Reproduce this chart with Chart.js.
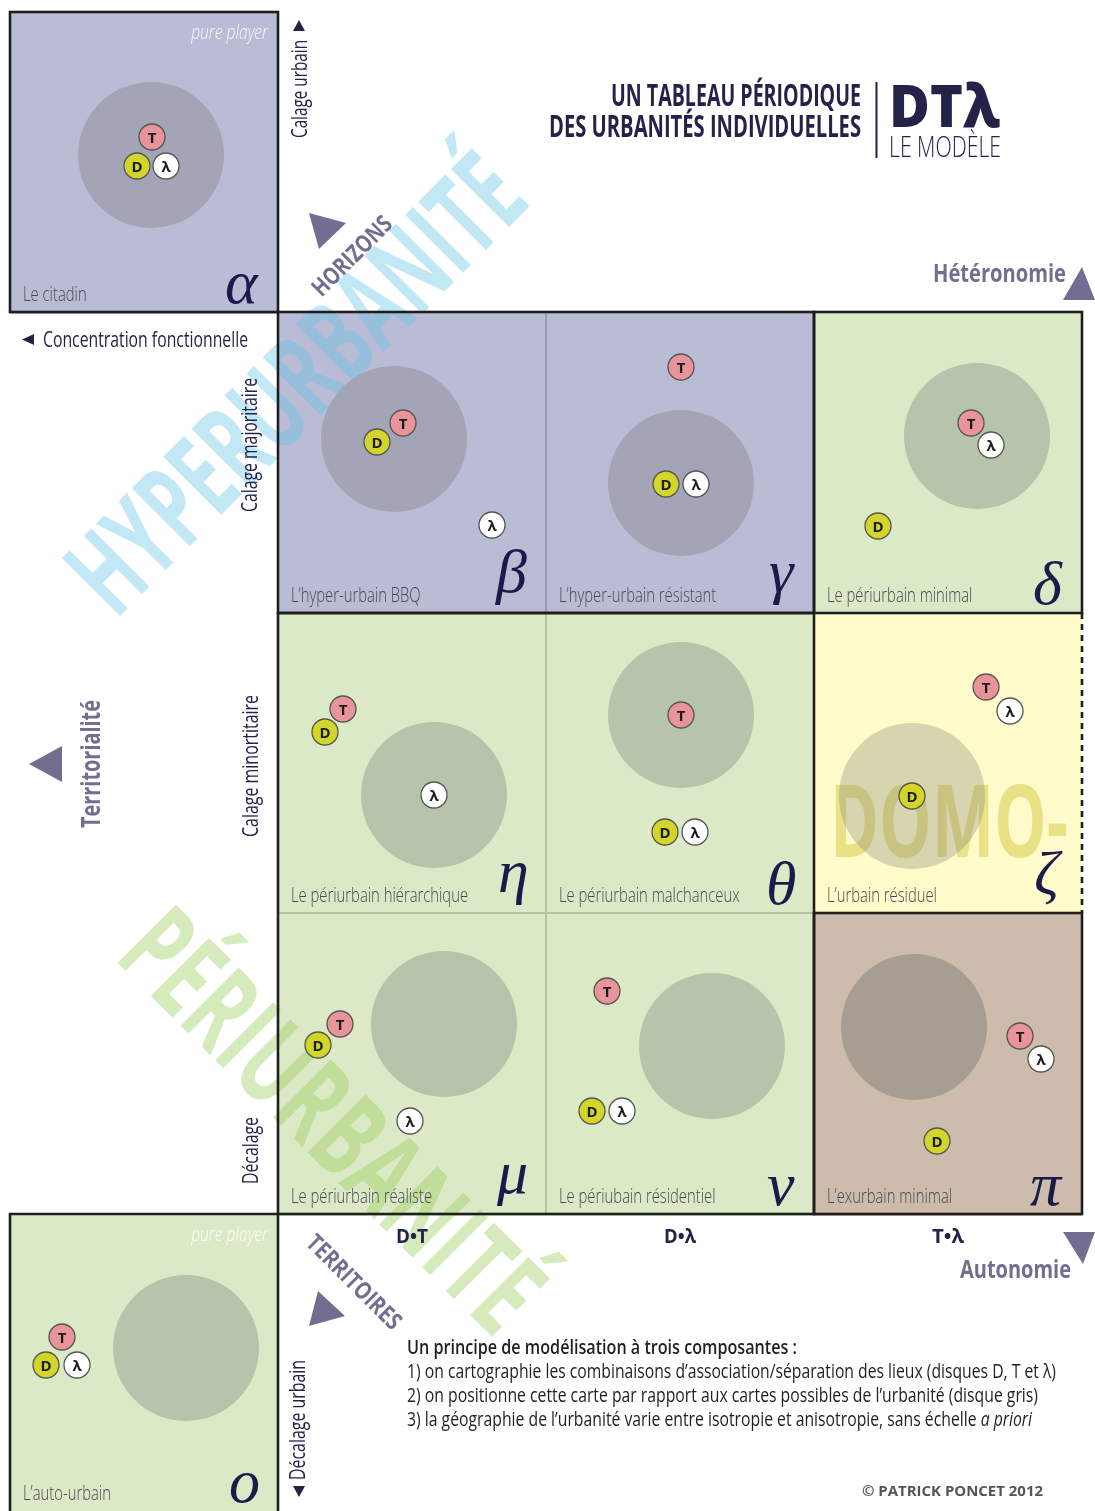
<!DOCTYPE html>
<html lang="fr">
<head>
<meta charset="utf-8">
<title>Un tableau périodique des urbanités individuelles</title>
<script src="https://cdn.jsdelivr.net/npm/chart.js"></script>
<style>
  html, body { margin: 0; padding: 0; background: #fff; }
  #wrap { position: relative; width: 1095px; height: 1511px; overflow: hidden; }
  canvas { display: block; }
</style>
</head>
<body>
<div id="wrap"><canvas id="board" width="1095" height="1511" style="width:1095px;height:1511px"></canvas></div>
<script>
// the eleven cells, read row by row (alpha on top, omicron at the bottom)
const cellNames = ['Le citadin', 'L’hyper-urbain BBQ', 'L’hyper-urbain résistant', 'Le périurbain minimal',
  'Le périurbain hiérarchique', 'Le périurbain malchanceux', 'L’urbain résiduel',
  'Le périurbain réaliste', 'Le périubain résidentiel', 'L’exurbain minimal', 'L’auto-urbain'];
const cellGreek = ['α', 'β', 'γ', 'δ', 'η', 'θ', 'ζ', 'μ', 'ν', 'π', 'ο'];
const cellKind = ['hyper', 'hyper', 'hyper', 'peri', 'peri', 'peri', 'domo', 'peri', 'peri', 'exo', 'peri'];
const cellCol = [0, 1, 2, 3, 1, 2, 3, 1, 2, 3, 0];
const cellRow = [0, 1, 1, 1, 2, 2, 2, 3, 3, 3, 4];
const purePlayer = [true, false, false, false, false, false, false, false, false, false, true];

// grey disc = possible maps of urbanity
const urbanX = [151, 394, 681, 977, 434, 681, 912, 444, 712, 914, 186];
const urbanY = [155, 439, 483, 436, 795, 715, 796, 1024, 1046, 1027, 1348];
// D, T and lambda discs
const discDX = [137, 377, 666, 878, 325, 665, 912, 318, 592, 937, 46];
const discDY = [166, 442, 484, 526, 732, 832, 796, 1045, 1111, 1141, 1365];
const discTX = [152, 403, 681, 971, 343, 681, 986, 340, 607, 1020, 62];
const discTY = [137, 423, 367, 423, 709, 715, 687, 1024, 991, 1036, 1337];
const discLX = [166, 492, 696, 991, 434, 695, 1010, 410, 622, 1041, 77];
const discLY = [166, 525, 484, 445, 795, 832, 711, 1121, 1111, 1059, 1365];

// column labels under the grid
const colTicks = ['D•T', 'D•λ', 'T•λ'];

// sheet layout
const W = 1095, H = 1511;
const colX = [10, 278, 546, 814, 1082];
const rowY = [12, 312, 613, 913, 1214, 1511];

const SANS = "'Open Sans', 'Noto Sans', sans-serif";
const SERIF = "'Liberation Serif', 'DejaVu Serif', serif";
const INK = '#23234a';
const MAUVE = '#736e91';
const fills = { hyper: '#babcd6', peri: '#dce9c6', domo: '#fffbcb', exo: '#cdbcab' };
const urbanFill = { hyper: '#a3a5b6', peri: '#b5c4aa', domo: 'rgba(135,135,120,0.33)', exo: '#a89d92' };

function txt(ctx, s, x, y, o) {
  ctx.save();
  ctx.translate(x, y);
  if (o.rot) ctx.rotate(o.rot * Math.PI / 180);
  ctx.font = (o.italic ? 'italic ' : '') + (o.weight || 400) + ' ' + o.size + 'px ' + (o.family || SANS);
  const nat = ctx.measureText(s).width;
  const sx = o.w ? o.w / nat : (o.sx || 1);
  ctx.scale(sx, 1);
  ctx.textAlign = o.align || 'left';
  ctx.textBaseline = 'alphabetic';
  ctx.fillStyle = o.color || INK;
  ctx.fillText(s, 0, o.dy || 0);
  ctx.restore();
  return { width: nat * sx, sx: sx };
}

function tri(ctx, p, color) {
  ctx.beginPath();
  ctx.moveTo(p[0], p[1]);
  ctx.lineTo(p[2], p[3]);
  ctx.lineTo(p[4], p[5]);
  ctx.closePath();
  ctx.fillStyle = color;
  ctx.fill();
}

const pts = (xs, ys) => xs.map((x, i) => ({ x: x, y: ys[i] }));

const sheet = {
  id: 'sheet',
  beforeDatasetsDraw(chart) {
    const ctx = chart.ctx;
    const px = v => chart.scales.x.getPixelForValue(v);
    const py = v => chart.scales.y.getPixelForValue(v);
    ctx.save();
    ctx.fillStyle = '#fff';
    ctx.fillRect(0, 0, W, H);

    // cell backgrounds
    cellNames.forEach((n, i) => {
      const x0 = px(colX[cellCol[i]]), x1 = px(colX[cellCol[i] + 1]);
      const y0 = py(rowY[cellRow[i]]), y1 = py(rowY[cellRow[i] + 1]);
      ctx.fillStyle = fills[cellKind[i]];
      ctx.fillRect(x0, y0, x1 - x0, y1 - y0 + 2);
    });

    // big watermarks
    txt(ctx, 'HYPERURBANITÉ', 295, 383, { rot: -45, size: 115, weight: 700, w: 590, align: 'center', dy: 41, color: 'rgba(95,195,228,0.38)' });
    txt(ctx, 'PÉRIURBANITÉ', 333, 1120, { rot: 45, size: 115, weight: 700, w: 540, align: 'center', dy: 41, color: 'rgba(150,205,85,0.40)' });
    txt(ctx, 'DOMO-', 830, 857, { size: 100, weight: 700, w: 238, color: '#e9e185' });

    // thin inner lines
    ctx.strokeStyle = 'rgba(0,0,0,0.16)';
    ctx.lineWidth = 2;
    ctx.beginPath();
    ctx.moveTo(px(colX[2]), py(rowY[1])); ctx.lineTo(px(colX[2]), py(rowY[4]));
    ctx.moveTo(px(colX[1]), py(rowY[3])); ctx.lineTo(px(colX[3]), py(rowY[3]));
    ctx.stroke();

    // thick frames
    ctx.strokeStyle = '#1e1e1e';
    ctx.lineWidth = 2.6;
    const frame = (c0, r0, c1, r1) => ctx.strokeRect(px(colX[c0]), py(rowY[r0]), px(colX[c1]) - px(colX[c0]), py(rowY[r1]) - py(rowY[r0]));
    frame(0, 0, 1, 1);
    frame(1, 1, 3, 2);
    frame(3, 1, 4, 2);
    frame(1, 2, 3, 4);
    frame(3, 3, 4, 4);
    ctx.beginPath();
    ctx.moveTo(px(colX[0]), H + 5); ctx.lineTo(px(colX[0]), py(rowY[4]));
    ctx.lineTo(px(colX[1]), py(rowY[4])); ctx.lineTo(px(colX[1]), H + 5);
    ctx.stroke();
    ctx.setLineDash([6, 5]);
    ctx.beginPath();
    ctx.moveTo(px(colX[4]), py(rowY[2])); ctx.lineTo(px(colX[4]), py(rowY[3]));
    ctx.stroke();
    ctx.restore();
  },
  afterDatasetsDraw(chart) {
    const ctx = chart.ctx;
    const px = v => chart.scales.x.getPixelForValue(v);
    const py = v => chart.scales.y.getPixelForValue(v);
    ctx.save();

    // letters in the small discs
    [0, 1, 2].forEach(d => {
      const label = chart.data.datasets[d].label;
      chart.getDatasetMeta(d).data.forEach(pt => {
        txt(ctx, label, pt.x, pt.y + 5.5, { size: 15, weight: 700, align: 'center', color: '#1c1c1c' });
      });
    });

    // cell names, greek letters, pure player
    cellNames.forEach((n, i) => {
      const x0 = px(colX[cellCol[i]]), x1 = px(colX[cellCol[i] + 1]);
      const y0 = py(rowY[cellRow[i]]), y1 = py(rowY[cellRow[i] + 1]);
      txt(ctx, n, x0 + 13, y1 - 11, { size: 20, weight: 300, sx: 0.74, color: '#474752' });
      ctx.font = 'italic 400 62px ' + SERIF;
      const m = ctx.measureText(cellGreek[i]);
      ctx.fillStyle = '#1b1b4b';
      ctx.textAlign = 'left';
      ctx.fillText(cellGreek[i], x1 - 19 - m.actualBoundingBoxRight, y1 - 8 - m.actualBoundingBoxDescent);
      if (purePlayer[i]) {
        txt(ctx, 'pure player', x1 - 10, y0 + 27, { size: 20, weight: 300, italic: true, sx: 0.78, align: 'right', color: 'rgba(255,255,255,0.9)' });
      }
    });

    // title block
    txt(ctx, 'UN TABLEAU PÉRIODIQUE', 861, 106, { size: 31, weight: 700, align: 'right', w: 250 });
    txt(ctx, 'DES URBANITÉS INDIVIDUELLES', 861, 137, { size: 31, weight: 700, align: 'right', w: 312 });
    ctx.fillStyle = INK;
    ctx.fillRect(875.5, 82, 2, 76);
    txt(ctx, 'DTλ', 889, 127, { size: 59, weight: 800, w: 111 });
    txt(ctx, 'LE MODÈLE', 889, 157, { size: 30, weight: 300, w: 112 });

    // axes of the table
    txt(ctx, 'Hétéronomie', 1066, 282, { size: 25, weight: 700, align: 'right', w: 133, color: MAUVE });
    tri(ctx, [1063, 300, 1095, 300, 1082, 267], MAUVE);
    txt(ctx, 'Autonomie', 1071, 1278, { size: 25, weight: 700, align: 'right', w: 111, color: MAUVE });
    tri(ctx, [1063, 1232, 1095, 1232, 1083, 1264], MAUVE);
    txt(ctx, 'Concentration fonctionnelle', 43, 347, { size: 21, weight: 400, w: 205 });
    tri(ctx, [22, 339.5, 34, 334, 34, 345], INK);
    txt(ctx, 'Territorialité', 100, 828, { rot: -90, size: 27, weight: 700, w: 128, color: MAUVE });
    tri(ctx, [29, 764, 62, 746, 62, 782], MAUVE);
    txt(ctx, 'HORIZONS', 352, 256, { rot: -45, size: 24, weight: 700, w: 102, align: 'center', dy: 8, color: MAUVE });
    tri(ctx, [309, 213, 346, 223, 319, 249], MAUVE);
    txt(ctx, 'TERRITOIRES', 354, 1282, { rot: 45, size: 24, weight: 700, w: 123, align: 'center', dy: 8, color: MAUVE });
    tri(ctx, [309, 1326, 345, 1316, 318, 1291], MAUVE);

    txt(ctx, 'Calage urbain', 307, 138, { rot: -90, size: 21, w: 98 });
    tri(ctx, [293, 31, 305, 31, 299, 20], INK);
    txt(ctx, 'Calage majoritaire', 257, 512, { rot: -90, size: 21, w: 134 });
    txt(ctx, 'Calage minortitaire', 258, 837, { rot: -90, size: 21, w: 142 });
    txt(ctx, 'Décalage', 258, 1184, { rot: -90, size: 21, w: 67 });
    txt(ctx, 'Décalage urbain', 305, 1480, { rot: -90, size: 21, w: 120 });
    tri(ctx, [293, 1486, 305, 1486, 299, 1497], INK);

    colTicks.forEach((t, i) => {
      const cx = (px(colX[i + 1]) + px(colX[i + 2])) / 2;
      txt(ctx, t, cx, 1243, { size: 19, weight: 700, align: 'center', w: 32 });
    });

    // explanation
    txt(ctx, 'Un principe de modélisation à trois composantes :', 407, 1354, { size: 20, weight: 600, w: 390, color: '#1f1f1f' });
    txt(ctx, '1) on cartographie les combinaisons d’association/séparation des lieux (disques D, T et λ)', 407, 1378, { size: 20, weight: 400, w: 649, color: '#1f1f1f' });
    const l2 = txt(ctx, '2) on positionne cette carte par rapport aux cartes possibles de l’urbanité (disque gris)', 407, 1402, { size: 20, weight: 400, w: 631, color: '#1f1f1f' });
    const l3 = txt(ctx, '3) la géographie de l’urbanité varie entre isotropie et anisotropie, sans échelle ', 407, 1426, { size: 20, weight: 400, sx: l2.sx, color: '#1f1f1f' });
    txt(ctx, 'a priori', 407 + l3.width, 1426, { size: 20, weight: 400, italic: true, sx: l2.sx, color: '#1f1f1f' });
    txt(ctx, '© PATRICK PONCET 2012', 1043, 1496, { size: 15, weight: 700, align: 'right', w: 181, color: '#555' });
    ctx.restore();
  }
};

new Chart(document.getElementById('board'), {
  type: 'scatter',
  data: {
    datasets: [
      { label: 'D', data: pts(discDX, discDY), backgroundColor: '#d3d52b', order: 1 },
      { label: 'T', data: pts(discTX, discTY), backgroundColor: '#e8949a', order: 1 },
      { label: 'λ', data: pts(discLX, discLY), backgroundColor: '#ffffff', order: 1 },
      {
        label: 'urbanité', data: pts(urbanX, urbanY), order: 2,
        backgroundColor: c => urbanFill[cellKind[c.dataIndex]],
        pointRadius: 73, borderWidth: 0
      }
    ]
  },
  options: {
    responsive: false,
    animation: false,
    events: [],
    layout: { padding: 0, autoPadding: false },
    elements: { point: { radius: 13, borderWidth: 1.3, borderColor: '#555' } },
    datasets: { scatter: { clip: false } },
    plugins: { legend: { display: false }, tooltip: { enabled: false } },
    scales: {
      x: { type: 'linear', min: 0, max: W, display: false },
      y: { type: 'linear', min: 0, max: H, reverse: true, display: false }
    }
  },
  plugins: [sheet]
});
</script>
</body>
</html>
